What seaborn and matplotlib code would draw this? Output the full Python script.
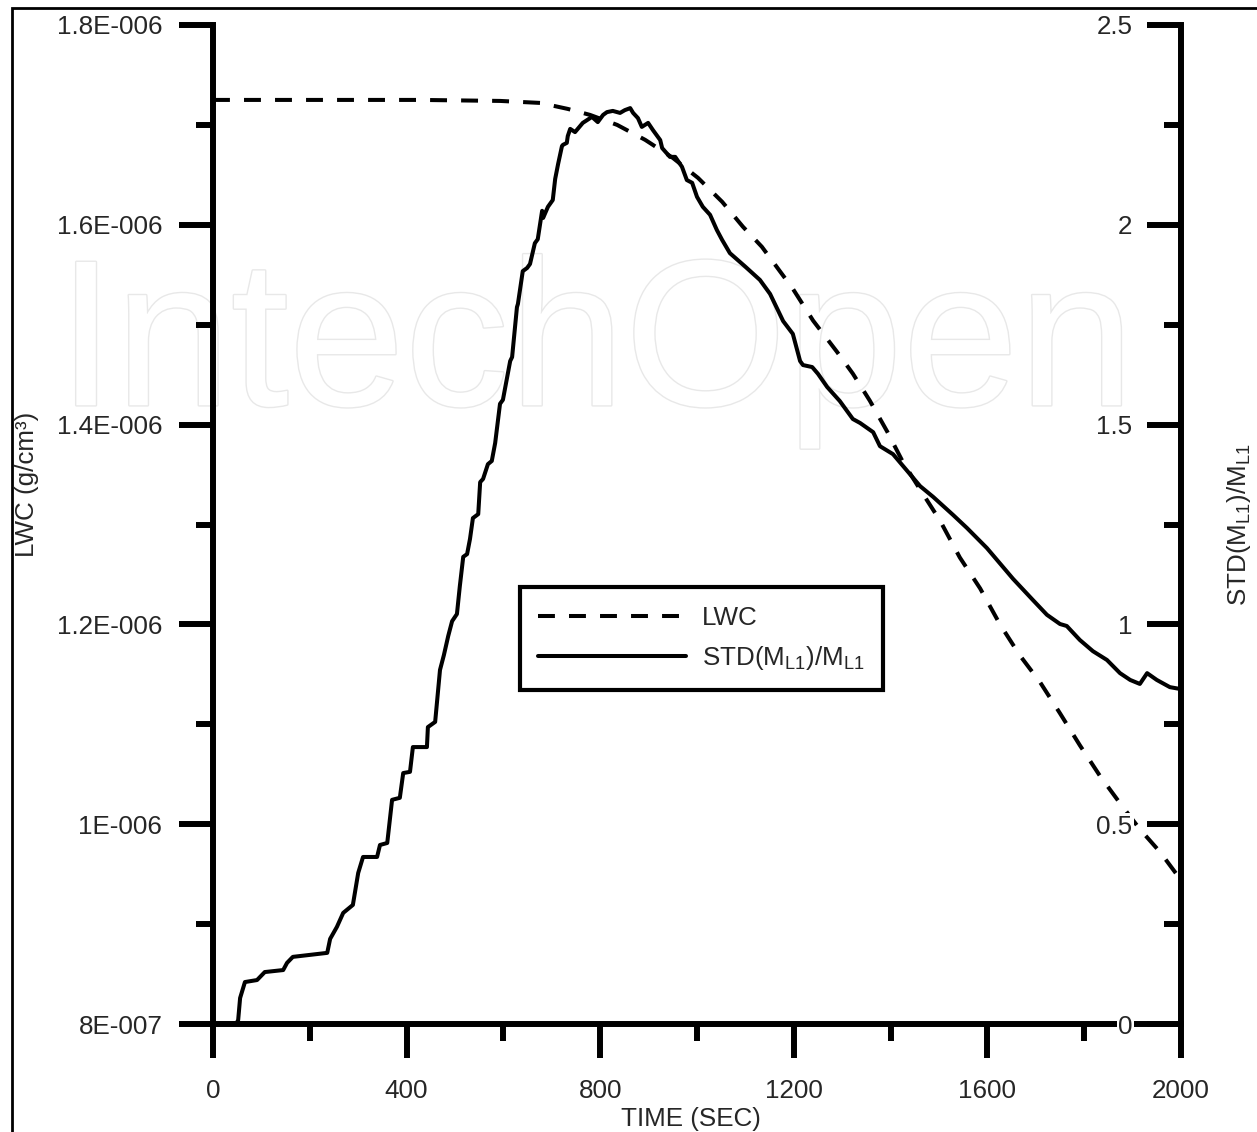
import numpy as np
import pandas as pd
import matplotlib
matplotlib.use("Agg")
import matplotlib.pyplot as plt
import matplotlib.patheffects as pe
from matplotlib.patches import Rectangle
from matplotlib.ticker import MultipleLocator
import seaborn as sns

# LWC (dashed, left axis), values in 1E-006 g/cm3
lwc_time = [0, 428, 593, 676, 733, 779, 835, 893, 950, 1002, 1052, 1095, 1134, 1198, 1240,
            1289, 1322, 1357, 1393, 1426, 1461, 1502, 1543, 1585, 1626, 1667, 1709, 1750,
            1791, 1833, 1874, 1915, 1957, 2000]
lwc_value = [1.725, 1.725, 1.724, 1.722, 1.716, 1.710, 1.700, 1.685, 1.667, 1.647, 1.623, 1.598,
             1.578, 1.536, 1.504, 1.473, 1.451, 1.424, 1.393, 1.362, 1.335, 1.304, 1.267, 1.236,
             1.200, 1.169, 1.142, 1.111, 1.079, 1.048, 1.021, 0.995, 0.972, 0.944]

# STD(M_L1)/M_L1 (solid, right axis)
std_time = [0, 48, 52, 56, 66, 91, 107, 145, 153, 165,
            236, 242, 256, 269, 289, 300, 310, 339, 345, 360,
            370, 386, 393, 407, 413, 442, 444, 459, 469, 477,
            486, 494, 504, 510, 517, 525, 531, 537, 548, 552,
            558, 568, 576, 583, 593, 599, 614, 618, 628, 630,
            640, 649, 655, 665, 671, 680, 682, 692, 702, 707,
            713, 721, 723, 731, 733, 738, 748, 764, 783, 795,
            806, 814, 826, 841, 851, 862, 868, 878, 886, 899,
            909, 924, 928, 944, 955, 969, 979, 990, 1000, 1012,
            1027, 1041, 1052, 1068, 1100, 1130, 1151, 1178, 1198, 1213,
            1219, 1238, 1250, 1269, 1295, 1322, 1337, 1364, 1378, 1405,
            1426, 1461, 1488, 1529, 1558, 1599, 1653, 1694, 1723, 1750,
            1764, 1791, 1818, 1847, 1874, 1895, 1915, 1930, 1950, 1977,
            2000]
std_ratio = [0, 0, 0.01, 0.065, 0.105, 0.11, 0.13, 0.135, 0.153, 0.168,
             0.178, 0.213, 0.243, 0.278, 0.298, 0.378, 0.418, 0.418, 0.448, 0.453,
             0.561, 0.566, 0.628, 0.631, 0.693, 0.693, 0.743, 0.756, 0.886, 0.923,
             0.971, 1.008, 1.026, 1.096, 1.169, 1.176, 1.214, 1.266, 1.276, 1.356,
             1.364, 1.401, 1.409, 1.454, 1.552, 1.562, 1.659, 1.669, 1.794, 1.802,
             1.884, 1.892, 1.902, 1.954, 1.964, 2.035, 2.017, 2.045, 2.062, 2.115,
             2.152, 2.197, 2.200, 2.205, 2.222, 2.240, 2.232, 2.255, 2.270, 2.257,
             2.275, 2.282, 2.285, 2.280, 2.287, 2.292, 2.280, 2.267, 2.245, 2.255,
             2.237, 2.212, 2.192, 2.170, 2.170, 2.145, 2.112, 2.105, 2.070, 2.045,
             2.025, 1.987, 1.962, 1.929, 1.895, 1.862, 1.827, 1.759, 1.727, 1.659,
             1.649, 1.644, 1.627, 1.594, 1.559, 1.514, 1.504, 1.481, 1.446, 1.426,
             1.396, 1.346, 1.319, 1.274, 1.241, 1.191, 1.114, 1.061, 1.024, 1.001,
             0.996, 0.961, 0.933, 0.911, 0.878, 0.861, 0.851, 0.878, 0.861, 0.843,
             0.838]

time_ticks = [0, 400, 800, 1200, 1600, 2000]
lwc_ticks = [0.8, 1.0, 1.2, 1.4, 1.6, 1.8]
lwc_ticklabels = ['8E-007', '1E-006', '1.2E-006', '1.4E-006', '1.6E-006', '1.8E-006']
std_ticks = [0, 0.5, 1, 1.5, 2, 2.5]
std_ticklabels = ['0', '0.5', '1', '1.5', '2', '2.5']

lwc_df = pd.DataFrame({'time': lwc_time, 'lwc': np.array(lwc_value) * 1e-6})
std_df = pd.DataFrame({'time': std_time, 'ratio': std_ratio})

sns.set_style("white")
plt.rcParams['font.family'] = ['Liberation Sans', 'DejaVu Sans']
plt.rcParams['mathtext.fontset'] = 'custom'
plt.rcParams['mathtext.rm'] = 'Liberation Sans'

fs = 18.7
lw_axis = 4.3
lw_line = 2.9

fig = plt.figure(figsize=(12.57, 11.32), dpi=100)
ax = fig.add_axes([213 / 1257, 1 - 1024 / 1132, 968 / 1257, 999 / 1132])
ax.patch.set_visible(False)
ax2 = ax.twinx()
ax2.patch.set_visible(False)

# watermark
fig.text(0.474, 0.642, 'IntechOpen', fontsize=150, color='white', ha='center', va='baseline',
         zorder=-1, path_effects=[pe.Stroke(linewidth=2, foreground='#e8e8e8'), pe.Normal()])

# figure border
fig.add_artist(Rectangle((12 / 1257, -0.1), 1.2, 0.1 + 1 - 8 / 1132, transform=fig.transFigure,
                         fill=False, lw=2, ec='black'))

sns.lineplot(data=lwc_df, x='time', y='lwc', ax=ax, color='black', lw=lw_line, legend=False)
sns.lineplot(data=std_df, x='time', y='ratio', ax=ax2, color='black', lw=lw_line, legend=False)
lwc_line = ax.lines[0]
lwc_line.set_linestyle((0, (4.2, 3.5)))
std_line = ax2.lines[0]

# left / bottom axis
ax.set_xlim(0, 2000)
ax.set_ylim(0.8e-6, 1.8e-6)
ax.set_xticks(time_ticks, [str(t) for t in time_ticks])
ax.xaxis.set_minor_locator(MultipleLocator(200))
ax.set_yticks(np.array(lwc_ticks) * 1e-6, lwc_ticklabels)
ax.yaxis.set_minor_locator(MultipleLocator(1e-7))
ax.tick_params(which='both', bottom=True, left=True, right=False, top=False)
ax.tick_params(which='major', direction='out', length=24.5, width=lw_axis, labelsize=fs, color='black')
ax.tick_params(which='minor', direction='out', length=12, width=lw_axis, color='black')
ax.tick_params(axis='x', which='major', pad=15)
ax.tick_params(axis='y', which='major', pad=12)
for s in ['top', 'right']:
    ax.spines[s].set_visible(False)
for s in ['left', 'bottom']:
    ax.spines[s].set_linewidth(lw_axis)
    ax.spines[s].set_color('black')

# right axis
ax2.set_ylim(0, 2.5)
ax2.set_yticks(std_ticks, std_ticklabels)
ax2.yaxis.set_minor_locator(MultipleLocator(0.25))
ax2.tick_params(axis='y', which='both', right=True, left=False)
ax2.tick_params(axis='y', which='major', direction='in', length=24.5, width=lw_axis,
                labelsize=fs, pad=-35, color='black')
ax2.tick_params(axis='y', which='minor', direction='in', length=12, width=lw_axis, color='black')
for s in ['top', 'left', 'bottom']:
    ax2.spines[s].set_visible(False)
ax2.spines['right'].set_linewidth(lw_axis)
ax2.spines['right'].set_color('black')
for t in ax2.yaxis.get_major_ticks():
    t.label2.set_horizontalalignment('right')
    t.label2.set_bbox(dict(facecolor='white', edgecolor='none', pad=1))

# axis labels
ax.set_xlabel('TIME (SEC)', fontsize=fs)
ax.xaxis.set_label_coords(0.494, -0.083)
ax.set_ylabel('LWC (g/cm³)', fontsize=fs)
ax.yaxis.set_label_coords(-0.18, 0.54)
ax2.set_ylabel(r'STD(M$_{\mathregular{L1}}$)/M$_{\mathregular{L1}}$', fontsize=fs)
ax2.yaxis.set_label_coords(1.045, 0.5)

# legend
leg = ax2.legend([lwc_line, std_line], ['LWC', r'STD(M$_{\mathregular{L1}}$)/M$_{\mathregular{L1}}$'],
                 loc='upper left', bbox_to_anchor=(0.317, 0.437), frameon=True, fancybox=False,
                 edgecolor='black', framealpha=1, fontsize=fs, handlelength=5.7,
                 handletextpad=0.6, borderpad=0.7, labelspacing=0.55, borderaxespad=0)
leg.get_frame().set_linewidth(3)

fig.savefig('out.png', dpi=100)
